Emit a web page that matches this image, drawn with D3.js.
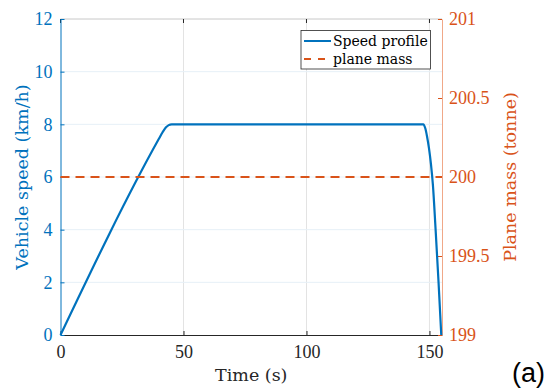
<!DOCTYPE html>
<html>
<head>
<meta charset="utf-8">
<script src="https://cdn.jsdelivr.net/npm/d3@7"></script>
<style>
  body { margin: 0; background: #fff; }
  svg text { font-family: "Liberation Serif", "DejaVu Serif", serif; }
  svg text.lbl { font-family: "DejaVu Serif", serif; }
</style>
</head>
<body>
<div id="chart"></div>
<script>
// speed profile
var timeSec  = [0, 40, 41.5, 42.8, 44, 45.2, 147.5, 148.3, 149, 149.8, 150.6, 151.4, 152.5, 153.7, 154.8];
var speedKmh = [0, 7.45, 7.7, 7.88, 7.97, 8, 8, 7.85, 7.55, 7.1, 6.5, 5.7, 4, 2, 0];
var planeMass = 200;

var xTicks = [0, 50, 100, 150];
var yTicks = [0, 2, 4, 6, 8, 10, 12];
var y2Ticks = [199, 199.5, 200, 200.5, 201];

var blue = "#0072BD", orange = "#D95319";
var W = 554, H = 389;
var m = { left: 60.5, right: 442, top: 19, bottom: 335 };

var svg = d3.select("#chart").append("svg")
  .attr("width", W).attr("height", H);

var x = d3.scaleLinear().domain([0, 155.1]).range([m.left, m.right]);
var y = d3.scaleLinear().domain([0, 12]).range([m.bottom, m.top]);
var y2 = d3.scaleLinear().domain([199, 201]).range([m.bottom, m.top]);

// grid
svg.append("g").selectAll("line").data(xTicks.slice(1)).enter().append("line")
  .attr("x1", d => x(d)).attr("x2", d => x(d))
  .attr("y1", m.top).attr("y2", m.bottom)
  .attr("stroke", "#e3e3e3").attr("stroke-width", 1);
svg.append("g").selectAll("line").data(yTicks.slice(1, -1)).enter().append("line")
  .attr("x1", m.left).attr("x2", m.right)
  .attr("y1", d => y(d)).attr("y2", d => y(d))
  .attr("stroke", "#e6f0f7").attr("stroke-width", 1);

// box top
svg.append("line").attr("x1", m.left).attr("x2", m.right)
  .attr("y1", m.top).attr("y2", m.top).attr("stroke", "#c8c8c8");

// x axis
var xAxis = svg.append("g").attr("transform", "translate(0," + m.bottom + ")")
  .call(d3.axisBottom(x).tickValues(xTicks).tickSizeInner(-4).tickSizeOuter(0).tickPadding(10));
xAxis.select(".domain").attr("stroke", "#262626");
xAxis.selectAll("line").attr("stroke", "#262626");
xAxis.selectAll("text").attr("font-size", 18).attr("fill", "#262626")
  .attr("font-family", "Liberation Serif");
// top ticks
svg.append("g").selectAll("line").data(xTicks).enter().append("line")
  .attr("x1", d => x(d)).attr("x2", d => x(d))
  .attr("y1", m.top).attr("y2", m.top + 4).attr("stroke", "#262626");

// left axis
var yAxis = svg.append("g").attr("transform", "translate(" + m.left + ",0)")
  .call(d3.axisLeft(y).tickValues(yTicks).tickSizeInner(-4).tickSizeOuter(0).tickPadding(8));
yAxis.select(".domain").attr("stroke", blue);
yAxis.selectAll("line").attr("stroke", blue);
yAxis.selectAll("text").attr("font-size", 18).attr("fill", blue)
  .attr("font-family", "Liberation Serif");

// right axis
var y2Axis = svg.append("g").attr("transform", "translate(" + m.right + ",0)")
  .call(d3.axisRight(y2).tickValues(y2Ticks).tickFormat(d3.format("")).tickSizeInner(-4).tickSizeOuter(0).tickPadding(7));
y2Axis.select(".domain").attr("stroke", "#f0a888");
y2Axis.selectAll("line").attr("stroke", orange);
y2Axis.selectAll("text").attr("font-size", 18).attr("fill", orange)
  .attr("font-family", "Liberation Serif");

// series
var line = d3.line().x((d, i) => x(timeSec[i])).y(d => y(d)).curve(d3.curveMonotoneX);
svg.append("path").datum(speedKmh).attr("d", line)
  .attr("fill", "none").attr("stroke", blue).attr("stroke-width", 2.2);

svg.append("line")
  .attr("x1", m.left).attr("x2", m.right)
  .attr("y1", y2(planeMass)).attr("y2", y2(planeMass))
  .attr("stroke", orange).attr("stroke-width", 2.2).attr("stroke-dasharray", "9,6");

// labels
svg.append("text").attr("class", "lbl").attr("x", (m.left + m.right) / 2).attr("y", 381)
  .attr("text-anchor", "middle").attr("font-size", 17.5).attr("fill", "#262626")
  .text("Time (s)");
svg.append("text").attr("class", "lbl").attr("transform", "translate(28," + ((m.top + m.bottom) / 2) + ") rotate(-90)")
  .attr("text-anchor", "middle").attr("font-size", 17.5).attr("fill", blue)
  .text("Vehicle speed (km/h)");
svg.append("text").attr("class", "lbl").attr("transform", "translate(516," + ((m.top + m.bottom) / 2) + ") rotate(-90)")
  .attr("text-anchor", "middle").attr("font-size", 17.5).attr("fill", orange)
  .text("Plane mass (tonne)");

// legend
var lg = svg.append("g");
lg.append("rect").attr("x", 301).attr("y", 30.5).attr("width", 129.5).attr("height", 38.5)
  .attr("fill", "#fff").attr("stroke", "#262626").attr("stroke-width", 0.8);
lg.append("line").attr("x1", 304).attr("x2", 331).attr("y1", 41).attr("y2", 41)
  .attr("stroke", blue).attr("stroke-width", 2);
lg.append("line").attr("x1", 304).attr("x2", 331).attr("y1", 59).attr("y2", 59)
  .attr("stroke", orange).attr("stroke-width", 2).attr("stroke-dasharray", "7,7");
lg.append("text").attr("class", "lbl").attr("x", 333).attr("y", 46).attr("font-size", 14).attr("fill", "#000").text("Speed profile");
lg.append("text").attr("class", "lbl").attr("x", 333).attr("y", 64).attr("font-size", 14).attr("fill", "#000").text("plane mass");

// panel tag
svg.append("text").attr("x", 512).attr("y", 382)
  .style("font-family", "Liberation Sans, Arial, sans-serif")
  .attr("font-size", 27).attr("fill", "#000").text("(a)");
</script>
</body>
</html>
